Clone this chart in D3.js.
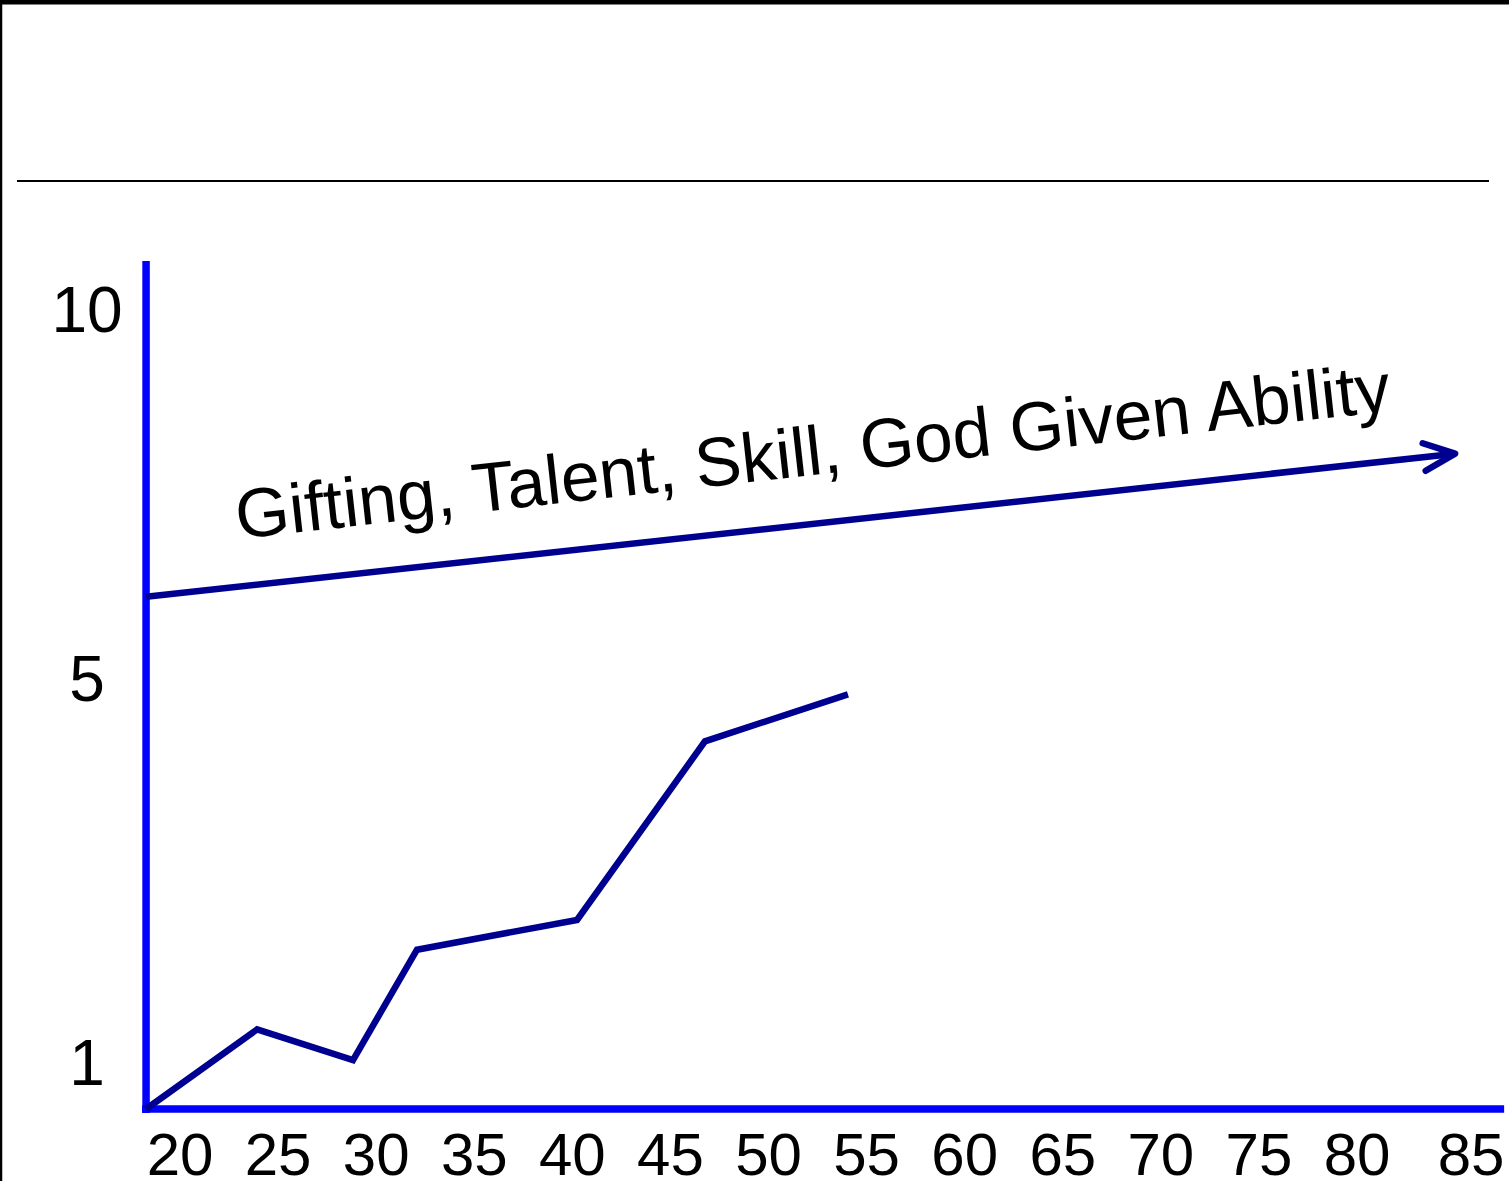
<!DOCTYPE html>
<html>
<head>
<meta charset="utf-8">
<script src="https://cdn.jsdelivr.net/npm/d3@7"></script>
<style>
  body { margin: 0; background: #fff; }
  svg { display: block; font-family: "Liberation Sans", Arial, sans-serif; }
</style>
</head>
<body>
<svg id="chart"></svg>
<script>
// age along the bottom, score up the side
const xTicks = [20, 25, 30, 35, 40, 45, 50, 55, 60, 65, 70, 75, 80, 85];
const yTicks = [1, 5, 10];

// growth line (age, score)
const lineAges = [18.27, 23.93, 28.82, 32.08, 40.24, 46.76, 54.05];
const lineScores = [0, 1.34, 1.02, 2.17, 2.48, 4.34, 4.83];

// gifting arrow (start, end)
const arrowAges = [18.27, 85.0];
const arrowScores = [6.10, 8.04];
const arrowLabel = "Gifting, Talent, Skill, God Given Ability";

const width = 1509;
const height = 1181;

const svg = d3.select('#chart')
  .attr('width', width)
  .attr('height', height)
;

// x is even, y is hand-spaced on the slide so use a piecewise scale
const xScale = d3.scaleLinear()
  .domain([20, 80])
  .range([180, 1357])
;
const yScale = d3.scaleLinear()
  .domain([0, 1, 5, 10])
  .range([1109, 1062, 678, 309])
;

const xMin = 18.27;
const xMax = 87.5;
const yMax = 10.65;

// slide frame + title rule
svg.append('line')
  .attr('x1', 0).attr('x2', width)
  .attr('y1', 2).attr('y2', 2)
  .attr('stroke', '#000')
  .attr('stroke-width', 5)
;
svg.append('line')
  .attr('x1', 1).attr('x2', 1)
  .attr('y1', 0).attr('y2', height)
  .attr('stroke', '#000')
  .attr('stroke-width', 2.5)
;
svg.append('line')
  .attr('x1', 17).attr('x2', 1489)
  .attr('y1', 181).attr('y2', 181)
  .attr('stroke', '#000')
  .attr('stroke-width', 2)
;

// axes
svg.append('line')
  .attr('x1', xScale(xMin)).attr('x2', xScale(xMin))
  .attr('y1', yScale(yMax)).attr('y2', yScale(0) + 4)
  .attr('stroke', '#0000ff')
  .attr('stroke-width', 7.5)
;
svg.append('line')
  .attr('x1', xScale(xMin) - 4).attr('x2', xScale(xMax))
  .attr('y1', yScale(0)).attr('y2', yScale(0))
  .attr('stroke', '#0000ff')
  .attr('stroke-width', 7.5)
;

// tick labels
svg.append('g')
  .selectAll('text')
  .data(xTicks)
  .join('text')
  .attr('x', d => xScale(d))
  .attr('dx', (d, i) => i === xTicks.length - 1 ? 16 : 0)
  .attr('y', yScale(0) + 66)
  .attr('text-anchor', 'middle')
  .attr('font-size', 60)
  .attr('fill', '#000')
  .text(d => d)
;
svg.append('g')
  .selectAll('text')
  .data(yTicks)
  .join('text')
  .attr('x', 87)
  .attr('y', d => yScale(d))
  .attr('dy', '0.36em')
  .attr('text-anchor', 'middle')
  .attr('font-size', 64)
  .attr('fill', '#000')
  .text(d => d)
;

// growth line
const lineData = lineAges.map((a, i) => ({ age: a, score: lineScores[i] }));
const line = d3.line()
  .x(d => xScale(d.age))
  .y(d => yScale(d.score))
;
svg.append('path')
  .attr('d', line(lineData))
  .attr('fill', 'none')
  .attr('stroke', '#000090')
  .attr('stroke-width', 6.5)
  .attr('stroke-linejoin', 'miter')
;

// arrow
const ax0 = xScale(arrowAges[0]), ay0 = yScale(arrowScores[0]);
const ax1 = xScale(arrowAges[1]), ay1 = yScale(arrowScores[1]);
svg.append('line')
  .attr('x1', ax0).attr('y1', ay0)
  .attr('x2', ax1).attr('y2', ay1)
  .attr('stroke', '#000090')
  .attr('stroke-width', 6.5)
;
const back = Math.atan2(ay0 - ay1, ax0 - ax1);
const wing = 34;
const spread = 24 * Math.PI / 180;
const head = d3.path();
head.moveTo(ax1 + wing * Math.cos(back + spread), ay1 + wing * Math.sin(back + spread));
head.lineTo(ax1, ay1);
head.lineTo(ax1 + wing * Math.cos(back - spread), ay1 + wing * Math.sin(back - spread));
svg.append('path')
  .attr('d', head.toString())
  .attr('fill', 'none')
  .attr('stroke', '#000090')
  .attr('stroke-width', 6.5)
  .attr('stroke-linecap', 'round')
  .attr('stroke-linejoin', 'round')
;

// arrow label, tilted with the arrow
const angle = Math.atan2(ay1 - ay0, ax1 - ax0) * 180 / Math.PI;
const lx = xScale(22.96), ly = yScale(5) - 139;
svg.append('text')
  .attr('transform', `translate(${lx},${ly}) rotate(${angle - 0.1})`)
  .attr('font-size', 69.5)
  .attr('fill', '#000')
  .text(arrowLabel)
;
</script>
</body>
</html>
